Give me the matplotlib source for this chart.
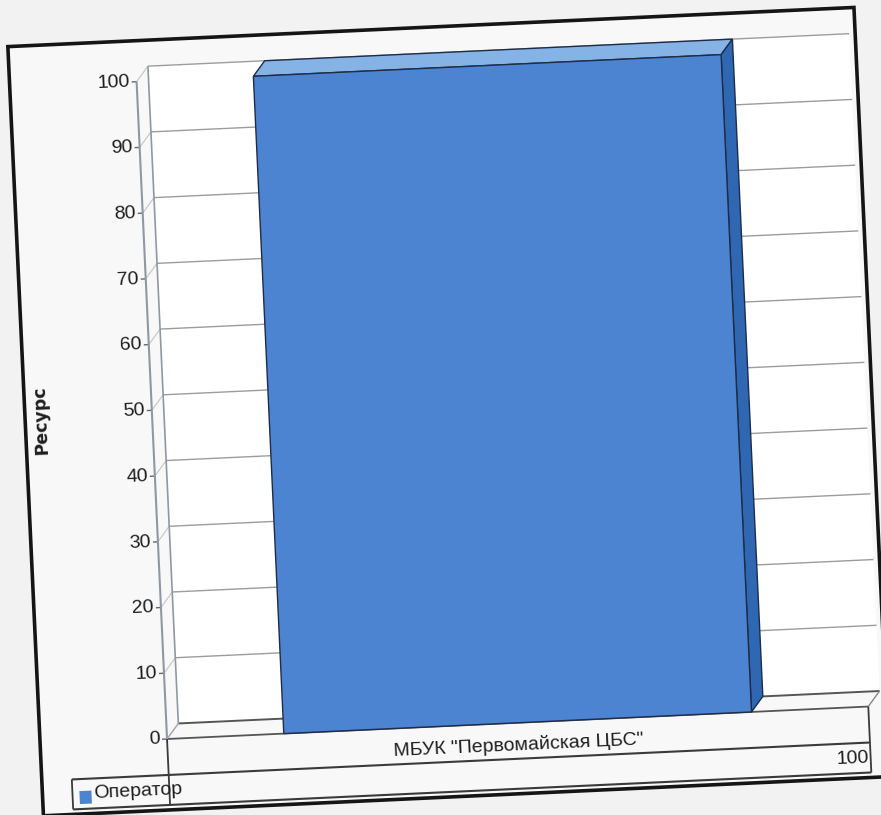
import matplotlib
matplotlib.use("Agg")
import matplotlib.pyplot as plt
from matplotlib.transforms import Affine2D
from matplotlib.patches import Polygon, Rectangle
from matplotlib.lines import Line2D

# chart data
categories = ['МБУК "Первомайская ЦБС"']
series_name = "Оператор"
values = [100]
y_ticks = [0, 10, 20, 30, 40, 50, 60, 70, 80, 90, 100]
y_label = "Ресурс"

W, H = 881, 815
fig = plt.figure(figsize=(W / 100, H / 100), dpi=100)
fig.patch.set_facecolor("#f2f2f2")

# whole sheet is turned a little, everything goes through this
tilt = 2.65
rot = Affine2D().rotate_deg_around(W / 2, H / 2, tilt)

narrow = ["Liberation Sans Narrow", "Liberation Sans", "DejaVu Sans"]
ink = "#1e1e1e"
grid_c = "#9c9c9c"
wall_c = "#8e98a3"
dx, dy = 12, 15  # 3d depth offset in pixels

bar_front = "#4c84d2"
bar_top = "#86b3e6"
bar_side = "#2f67b3"
bar_edge = "#1e2c48"


def add(artist, z):
    artist.set_zorder(z)
    fig.add_artist(artist)


def line(p, q, color, lw, z=2):
    add(Line2D([p[0], q[0]], [p[1], q[1]], color=color, lw=lw,
               transform=rot, solid_capstyle="butt"), z)


# outer frame
add(Rectangle((25, 18), 847, 770, transform=rot, facecolor="#f8f8f8",
              edgecolor="#151515", lw=2.6), 0)

# plot area = front plane of the 3d box
ax = fig.add_axes([152 / W, 89 / H, 702 / W, 658 / H])
ax.set_xlim(-0.5, len(categories) - 0.5)
ax.set_ylim(y_ticks[0], y_ticks[-1])
ax.axis("off")
ax.patch.set_visible(False)
ax.set_zorder(3)

x0, x1 = -0.5, len(categories) - 0.5


def pt(x, y, d=0):
    px, py = ax.transData.transform((x, y))
    return (px + d * dx, py + d * dy)


# back wall
add(Polygon([pt(x0, 0, 1), pt(x1, 0, 1), pt(x1, 100, 1), pt(x0, 100, 1)],
            closed=True, transform=rot, facecolor="white", edgecolor="none"), 1)
for t in y_ticks:
    if t == 0:
        line(pt(x0, t, 1), pt(x1, t, 1), "#555555", 1.4)
    else:
        line(pt(x0, t, 1), pt(x1, t, 1), grid_c, 1.0)
    # side wall diagonals and ticks
    line(pt(x0, t), pt(x0, t, 1), "#c9c9c9", 0.9)
    p = pt(x0, t)
    line((p[0] - 5, p[1]), p, "#666666", 1.0)
    fig.text(p[0] - 7, p[1], str(t), transform=rot, ha="right", va="center",
             rotation=tilt, rotation_mode="anchor", fontsize=14,
             family=narrow, color=ink, zorder=4)

line(pt(x0, 0, 1), pt(x0, 100, 1), wall_c, 1.2)
line(pt(x0, 0), pt(x0, 100), wall_c, 1.5)

# floor
line(pt(x0, 0), pt(x1, 0), "#555555", 1.3)
line(pt(x0, 0), pt(x0, 0, 1), "#aaaaaa", 1.0)
line(pt(x1, 0), pt(x1, 0, 1), "#888888", 1.0)

# bars
bars = ax.bar(range(len(categories)), values, width=0.667, color=bar_front,
              edgecolor=bar_edge, lw=1.0, transform=ax.transData + rot,
              zorder=5, clip_on=False)
for r in bars:
    bx, bw, bh = r.get_x(), r.get_width(), r.get_height()
    top = Polygon([pt(bx, bh), pt(bx + bw, bh), pt(bx + bw, bh, 1), pt(bx, bh, 1)],
                  closed=True, transform=rot, facecolor=bar_top,
                  edgecolor=bar_edge, lw=1.0, clip_on=False, zorder=4)
    side = Polygon([pt(bx + bw, 0), pt(bx + bw, bh), pt(bx + bw, bh, 1),
                    pt(bx + bw, 0, 1)], closed=True, transform=rot,
                   facecolor=bar_side, edgecolor=bar_edge, lw=1.0,
                   clip_on=False, zorder=4)
    ax.add_patch(top)
    ax.add_patch(side)

# data table under the plot
left_x, right_x = pt(x0, 0)[0], pt(x1, 0)[0]
row_top = pt(x0, 0)[1]
row_mid = row_top - 36
row_bot = row_top - 66
leg_x = 55
tc = "#3a3a3a"
line((left_x, row_top), (left_x, row_bot), tc, 1.3, 4)
line((right_x, row_top), (right_x, row_bot), tc, 1.3, 4)
line((leg_x, row_mid), (right_x, row_mid), tc, 1.5, 4)
line((leg_x, row_bot), (right_x, row_bot), tc, 1.5, 4)
line((leg_x, row_mid), (leg_x, row_bot), tc, 1.3, 4)

col_w = (right_x - left_x) / len(categories)
for i, c in enumerate(categories):
    fig.text(left_x + col_w * (i + 0.5), (row_top + row_mid) / 2 - 4, c,
             transform=rot, ha="center", va="center", rotation=tilt,
             rotation_mode="anchor", fontsize=14, family=narrow, color=ink,
             zorder=5)
    fig.text(left_x + col_w * (i + 1) - 2, (row_mid + row_bot) / 2,
             str(values[i]), transform=rot, ha="right", va="center",
             rotation=tilt, rotation_mode="anchor", fontsize=14,
             family=narrow, color=ink, zorder=5)

# legend key in the table
add(Rectangle((leg_x + 7, row_bot + 5), 12, 13, transform=rot,
              facecolor=bar_front, edgecolor="none"), 5)
fig.text(leg_x + 21, (row_mid + row_bot) / 2, series_name, transform=rot,
         ha="left", va="center", rotation=tilt, rotation_mode="anchor",
         fontsize=14, family=narrow, color=ink, zorder=5)

# axis title
fig.text(41, 414, y_label, transform=rot, ha="center", va="center",
         rotation=90 + tilt, rotation_mode="anchor", fontsize=12.5,
         fontweight="bold", color=ink, zorder=5)

fig.savefig("out.png", dpi=100, facecolor=fig.get_facecolor())
